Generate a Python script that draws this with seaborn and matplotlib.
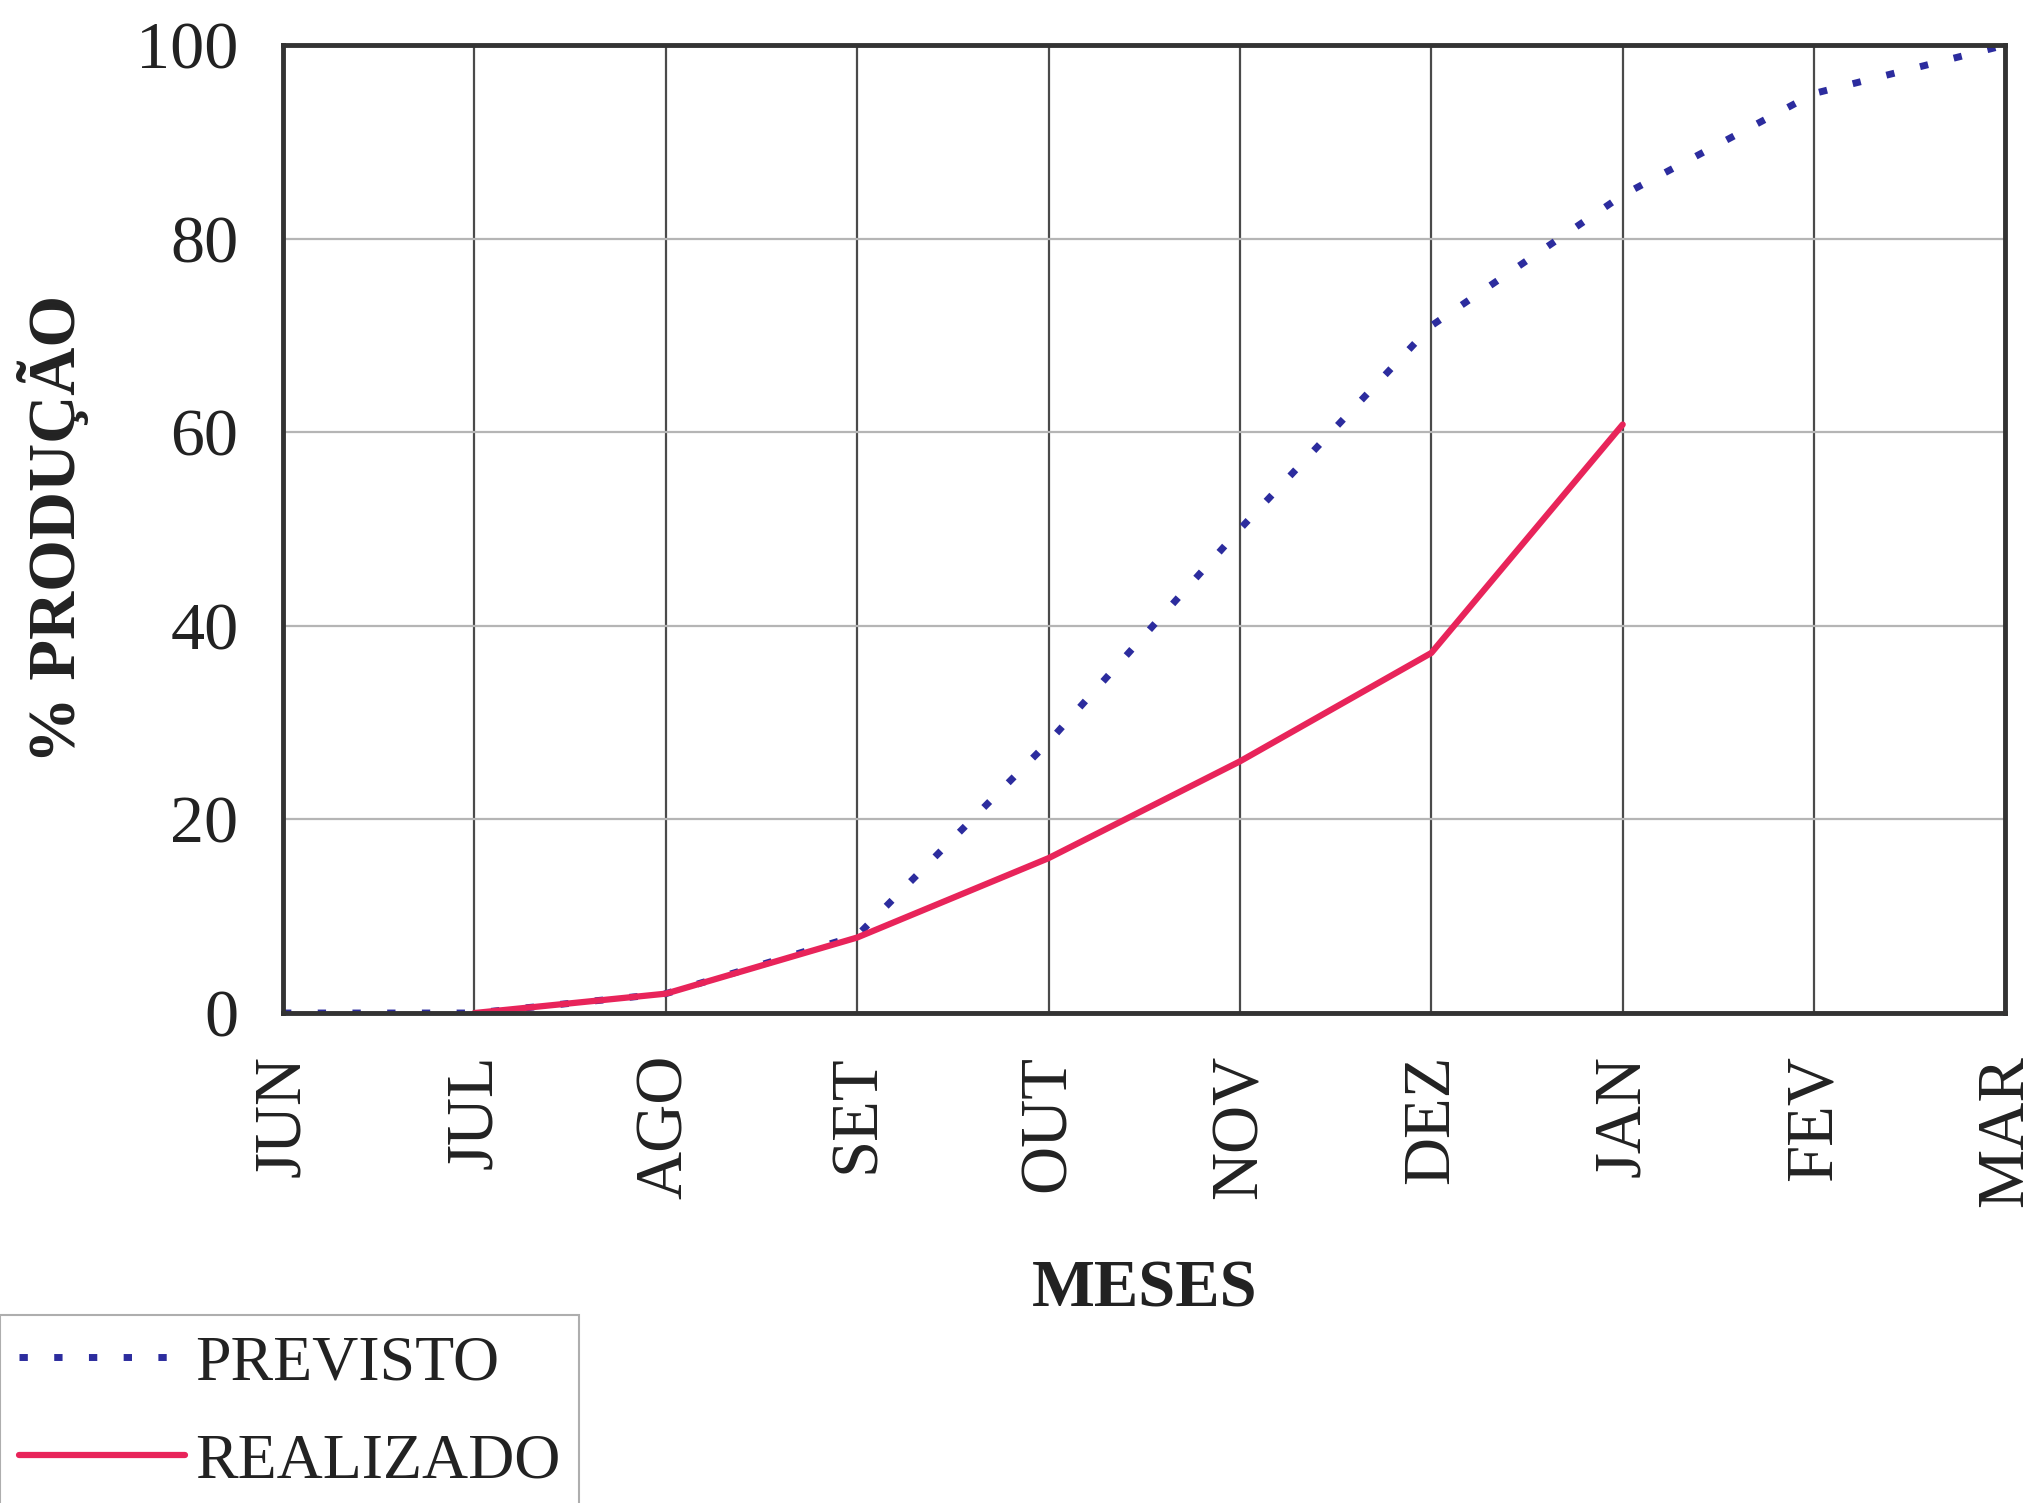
import matplotlib
matplotlib.use("Agg")
import matplotlib.pyplot as plt
import seaborn as sns
import numpy as np
import pandas as pd

meses = ["JUN", "JUL", "AGO", "SET", "OUT", "NOV", "DEZ", "JAN", "FEV", "MAR"]
previsto = [0, 0, 2, 8, 28, 50, 71, 84.5, 95, 100]
realizado_meses = ["JUL", "AGO", "SET", "OUT", "NOV", "DEZ", "JAN"]
realizado = [0, 2, 7.8, 16, 26, 37.2, 60.8]
y_ticks = [0, 20, 40, 60, 80, 100]

sns.set_theme(style="white")
plt.rcParams["font.family"] = ["Liberation Serif", "DejaVu Serif"]

df_prev = pd.DataFrame({"x": [meses.index(m) for m in meses], "y": previsto})
df_real = pd.DataFrame({"x": [meses.index(m) for m in realizado_meses], "y": realizado})

fig = plt.figure(figsize=(20.36, 15.03), dpi=100)
ax = fig.add_axes([0.139, 0.326, 0.846, 0.644])

ax.set_axisbelow(True)
for i in range(len(meses)):
    ax.axvline(i, color="#4a4a4a", lw=1.6, zorder=0)
for v in y_ticks:
    ax.axhline(v, color="#b5b5b5", lw=1.6, zorder=0)

sns.lineplot(data=df_prev, x="x", y="y", ax=ax, color="#2c2c9e", lw=5,
             linestyle=(0, (1.2, 3.8)), label="PREVISTO", sort=False)
sns.lineplot(data=df_real, x="x", y="y", ax=ax, color="#e8245a", lw=4.5,
             label="REALIZADO", sort=False)
ax.axhline(0, color="#5a3a3a", lw=2.5, zorder=1)

ax.set_xlim(0, len(meses) - 1)
ax.set_ylim(0, 100)
ax.set_xticks(range(len(meses)))
ax.set_xticklabels(meses, rotation=90, fontsize=48)
ax.set_yticks(y_ticks)
ax.set_yticklabels([str(v) for v in y_ticks], fontsize=49)
ax.tick_params(axis="both", which="major", direction="out", length=12, width=1.6,
               color="#8a8a8a", pad=20, labelcolor="#222222")
ax.tick_params(axis="x", pad=18)

ax.set_xlabel("MESES", fontsize=48, fontweight="bold", labelpad=38, color="#222222")
ax.set_ylabel("% PRODUÇÃO", fontsize=48, fontweight="bold", labelpad=34, color="#222222")

for s in ax.spines.values():
    s.set_visible(True)
    s.set_color("#333333")
    s.set_linewidth(3.5)

ax.get_legend().remove()
handles, labels = ax.get_legend_handles_labels()
leg = fig.legend(handles, labels, loc="lower left", bbox_to_anchor=(0.0, -0.005),
                 fontsize=46, frameon=True, fancybox=False, edgecolor="#9a9a9a",
                 handlelength=2.6, handletextpad=0.15, borderpad=0.3, labelspacing=0.62,
                 borderaxespad=0)
leg.get_frame().set_linewidth(1.5)
for t in leg.get_texts():
    t.set_color("#222222")

fig.savefig("out.png", dpi=100)
